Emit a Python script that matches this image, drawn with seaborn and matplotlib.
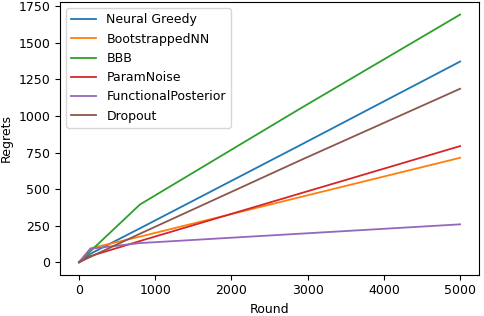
import numpy as np
import pandas as pd
import seaborn as sns
import matplotlib
matplotlib.use("Agg")
import matplotlib.pyplot as plt

rounds = [0, 150, 800, 2900, 5000]

methods = ["Neural Greedy", "BootstrappedNN", "BBB", "ParamNoise",
           "FunctionalPosterior", "Dropout"]

# cumulative regrets per method, one value per round above
neural_greedy = [0, 58, 232, 800, 1372]
bootstrapped_nn = [0, 95, 175, 445, 714]
bbb = [0, 76, 395, 1050, 1693]
param_noise = [0, 42, 145, 470, 794]
functional_posterior = [0, 92, 131, 195, 259]
dropout = [0, 37, 195, 696, 1186]

series = [neural_greedy, bootstrapped_nn, bbb, param_noise,
          functional_posterior, dropout]

rows = []
for name, vals in zip(methods, series):
    for r, v in zip(rounds, vals):
        rows.append({"Round": r, "Regrets": v, "Method": name})
df = pd.DataFrame(rows)

plt.rcParams["font.size"] = 9.0

fig = plt.figure(figsize=(4.84, 3.16), dpi=100)
ax = fig.add_axes([0.124, 0.131, 0.866, 0.862])

sns.lineplot(data=df, x="Round", y="Regrets", hue="Method",
             hue_order=methods, palette="tab10", linewidth=1.3, ax=ax)

ax.set_xticks([0, 1000, 2000, 3000, 4000, 5000])
ax.set_yticks([0, 250, 500, 750, 1000, 1250, 1500, 1750])
ax.legend(loc="upper left")

fig.savefig("out.png", dpi=100)
